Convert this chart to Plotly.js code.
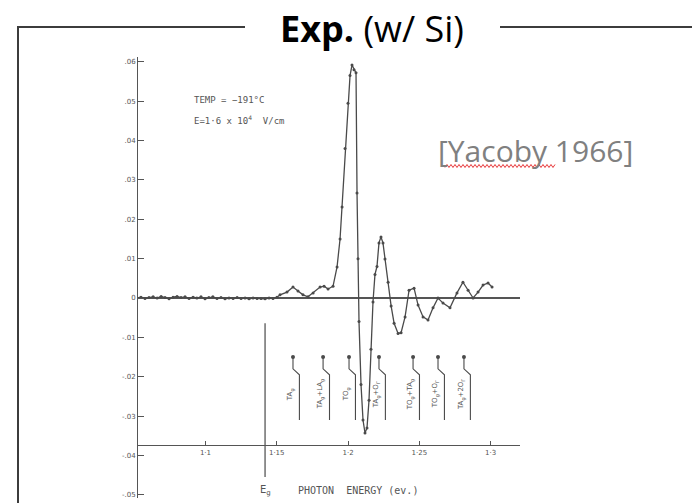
<!DOCTYPE html>
<html>
<head>
<meta charset="utf-8">
<script src="https://cdn.plot.ly/plotly-3.0.1.min.js"></script>
<style>html,body{margin:0;padding:0;background:#fff;}#chart{width:692px;height:503px;}</style>
</head>
<body>
<div id="chart"></div>
<script>
// ---- data (photon energy in eV, Δα in cm^-1 as printed) ----
const photonEnergy = [
  1.0520,1.0548,1.0576,1.0604,1.0633,1.0661,1.0689,1.0717,1.0745,1.0773,1.0801,1.0829,
  1.0857,1.0885,1.0913,1.0940,1.0969,1.0997,1.1024,1.1052,1.1081,1.1109,1.1137,1.1165,
  1.1194,1.1222,1.1250,1.1278,1.1306,1.1334,1.1362,1.1390,1.1418,1.1446,1.1474,1.1502,
  1.1523,1.1572,1.1614,1.1649,1.1684,1.1719,1.1755,1.1804,1.1832,1.1860,1.1895,1.1923,
  1.1944,1.1958,1.1979,1.2000,1.2014,1.2028,1.2042,1.2056,1.2063,1.2070,1.2077,1.2091,
  1.2105,1.2119,1.2133,1.2147,1.2161,1.2175,1.2189,1.2203,1.2217,1.2231,1.2245,1.2259,
  1.2281,1.2302,1.2323,1.2351,1.2372,1.2400,1.2428,1.2463,1.2491,1.2526,1.2561,1.2596,
  1.2631,1.2666,1.2715,1.2764,1.2806,1.2842,1.2877,1.2912,1.2947,1.2982,1.3010
];
const deltaAlpha = [
  0.0000,0.0002,-0.0001,0.0001,0.0003,0.0000,0.0004,0.0001,-0.0002,0.0002,0.0004,0.0001,
  0.0003,-0.0001,0.0002,0.0000,0.0003,-0.0002,0.0001,0.0003,-0.0001,0.0001,-0.0002,0.0000,
  -0.0001,0.0001,-0.0001,0.0000,-0.0002,0.0000,-0.0001,-0.0001,-0.0002,0.0000,-0.0001,0.0002,
  0.0008,0.0015,0.0028,0.0018,0.0008,0.0003,0.0013,0.0028,0.0030,0.0023,0.0030,0.0079,
  0.0150,0.0231,0.0380,0.0495,0.0565,0.0592,0.0580,0.0572,0.0267,0.0100,-0.0060,-0.0220,
  -0.0310,-0.0343,-0.0330,-0.0260,-0.0130,-0.0010,0.0060,0.0080,0.0140,0.0155,0.0140,0.0099,
  0.0040,-0.0020,-0.0064,-0.0090,-0.0088,-0.0048,0.0020,0.0025,-0.0018,-0.0048,-0.0056,-0.0025,
  0.0000,-0.0013,-0.0025,0.0013,0.0040,0.0020,0.0000,0.0015,0.0033,0.0038,0.0028
];
// phonon-assisted thresholds marked on the figure
const thresholdE = [1.1614, 1.1825, 1.2007, 1.2217, 1.2456, 1.2631, 1.2813];
const thresholdLabels = [
  "TA<sub>g</sub>", "TA<sub>g</sub>+LA<sub>g</sub>", "TO<sub>g</sub>",
  "TA<sub>g</sub>+O<sub>Γ</sub>", "TO<sub>g</sub>+TA<sub>g</sub>",
  "TO<sub>g</sub>+O<sub>Γ</sub>", "TA<sub>g</sub>+2O<sub>Γ</sub>"
];
const gapEnergy = 1.1418;
const gapLineSpan = [-0.0064, -0.0455];
const xTickVals = [1.1, 1.15, 1.2, 1.25, 1.3];
const xTickText = ["1·1", "1·15", "1·2", "1·25", "1·3"];
const yTickVals = [0.06,0.05,0.04,0.03,0.02,0.01,0,-0.01,-0.02,-0.03,-0.04,-0.05];
const yTickText = [".06",".05",".04",".03",".02",".01","0","-.01","-.02","-.03","-.04","-.05"];

// ---- layout helpers (pixel -> paper) ----
const W = 692, H = 503;
const px = v => v / W;
const py = v => (H - v) / H;
const ink = '#4a4a4a';

// bracket lines built from threshold energies
const bTop = -0.0150, bBend1 = -0.0180, bBend2 = -0.0195, bBottom = -0.0310, bJog = 0.0045;
const bx = [], by = [];
thresholdE.forEach(e => {
  bx.push(e, e, e + bJog, e + bJog, null);
  by.push(bTop, bBend1, bBend2, bBottom, null);
});

const traces = [
  {x: photonEnergy, y: deltaAlpha, type: 'scatter', mode: 'lines+markers',
   line: {color: ink, width: 1.3}, marker: {color: ink, size: 3}, hoverinfo: 'skip'},
  {x: bx, y: by, type: 'scatter', mode: 'lines', line: {color: ink, width: 1.1}, hoverinfo: 'skip'},
  {x: thresholdE, y: thresholdE.map(() => bTop), type: 'scatter', mode: 'markers',
   marker: {color: ink, size: 4}, hoverinfo: 'skip'},
  {x: [gapEnergy, gapEnergy], y: gapLineSpan, type: 'scatter', mode: 'lines',
   line: {color: ink, width: 1.2}, hoverinfo: 'skip'}
];

const annotations = [
  {xref: 'paper', yref: 'paper', x: px(372), y: py(28), xanchor: 'center', yanchor: 'middle',
   text: '<b>Exp.</b> (w/ Si)', showarrow: false,
   font: {family: 'Open Sans', size: 36, color: '#000'}},
  {xref: 'paper', yref: 'paper', x: px(436), y: py(150), xanchor: 'left', yanchor: 'middle',
   text: '[Yacoby 1966]', showarrow: false,
   font: {family: 'Open Sans', size: 30, color: '#808080'}},
  {xref: 'paper', yref: 'paper', x: px(192), y: py(100), xanchor: 'left', yanchor: 'middle',
   text: 'TEMP = −191°C', showarrow: false,
   font: {family: 'DejaVu Sans Mono', size: 9, color: '#555'}},
  {xref: 'paper', yref: 'paper', x: px(192), y: py(120), xanchor: 'left', yanchor: 'middle',
   text: 'E=1·6 x 10<sup>4</sup>  V/cm', showarrow: false,
   font: {family: 'DejaVu Sans Mono', size: 9, color: '#555'}},
  {xref: 'paper', yref: 'paper', x: px(358), y: py(490), xanchor: 'center', yanchor: 'middle',
   text: 'PHOTON  ENERGY (ev.)', showarrow: false,
   font: {family: 'DejaVu Sans Mono', size: 10, color: '#555'}},
  {xref: 'x', yref: 'y', x: gapEnergy, y: -0.0488, xanchor: 'center', yanchor: 'middle',
   text: 'E<sub>g</sub>', showarrow: false,
   font: {family: 'DejaVu Sans', size: 10, color: '#555'}}
];
thresholdE.forEach((e, i) => {
  annotations.push({xref: 'x', yref: 'y', x: e - 0.0016, y: -0.0245, textangle: -90,
    xanchor: 'center', yanchor: 'middle', text: thresholdLabels[i], showarrow: false,
    font: {family: 'DejaVu Sans', size: 7, color: '#555'}});
});

// red spell-check squiggle under "Yacoby"
let sq = '';
for (let xx = 445, k = 0; xx <= 556; xx += 2, k++) {
  const yy = 166 + (k % 2 ? -1.5 : 1.5);
  sq += (k === 0 ? 'M' : 'L') + px(xx).toFixed(5) + ',' + py(yy).toFixed(5) + ' ';
}

const frame = '#3c3c3c';
const shapes = [
  {type: 'line', xref: 'paper', yref: 'paper', x0: px(18), y0: py(27), x1: px(245), y1: py(27), line: {color: frame, width: 2}},
  {type: 'line', xref: 'paper', yref: 'paper', x0: px(500), y0: py(27), x1: px(692), y1: py(27), line: {color: frame, width: 2}},
  {type: 'line', xref: 'paper', yref: 'paper', x0: px(18), y0: py(26), x1: px(18), y1: py(503), line: {color: frame, width: 2}},
  {type: 'path', xref: 'paper', yref: 'paper', path: sq, line: {color: '#e8383a', width: 1}}
];

const layout = {
  width: W, height: H,
  margin: {l: 0, r: 0, t: 0, b: 0},
  paper_bgcolor: '#fff', plot_bgcolor: 'rgba(0,0,0,0)',
  showlegend: false,
  xaxis: {domain: [px(137), px(520)], range: [1.0520, 1.3206], anchor: 'free', position: py(445),
    showline: true, linecolor: '#555', linewidth: 1.2, ticks: 'inside', ticklen: 4, tickcolor: '#555',
    tickvals: xTickVals, ticktext: xTickText, tickfont: {family: 'DejaVu Sans', size: 7, color: '#555'},
    showgrid: false, zeroline: false},
  yaxis: {domain: [py(498), py(57)], range: [-0.05081, 0.06123], anchor: 'free', position: px(137),
    showline: true, linecolor: '#555', linewidth: 1.2, ticks: 'inside', ticklen: 6, tickcolor: '#555',
    tickvals: yTickVals, ticktext: yTickText, tickfont: {family: 'DejaVu Sans', size: 7, color: '#555'},
    showgrid: false, zeroline: true, zerolinecolor: '#555', zerolinewidth: 1.2},
  annotations: annotations,
  shapes: shapes
};

Plotly.newPlot('chart', traces, layout, {staticPlot: true, displayModeBar: false});
</script>
</body>
</html>
